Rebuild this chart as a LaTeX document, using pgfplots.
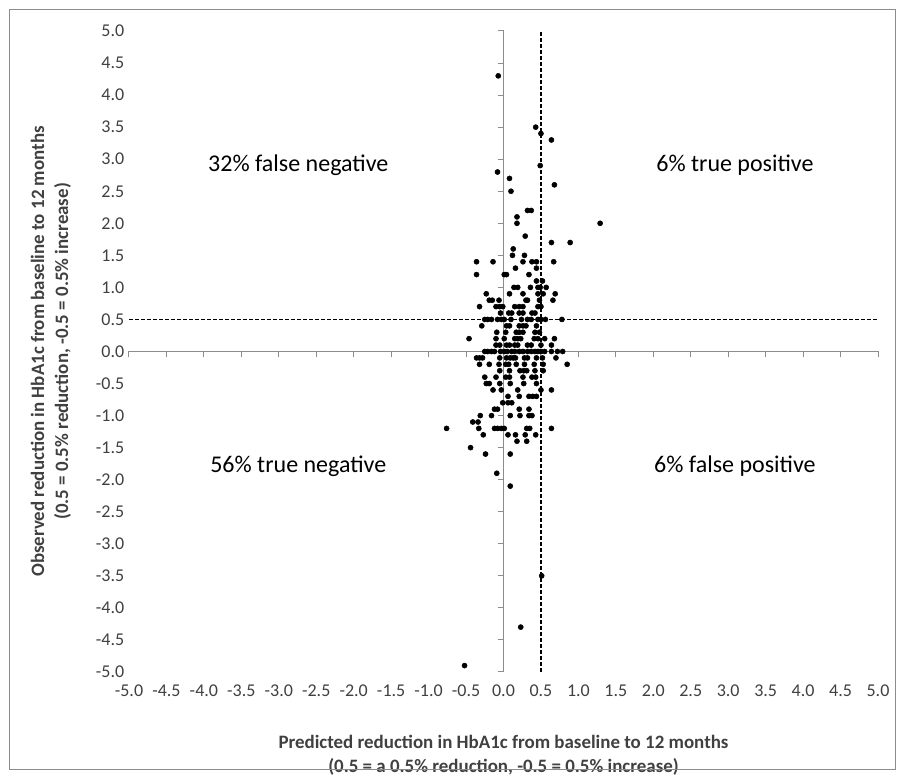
\documentclass[border=0pt]{standalone}
\usepackage{fontspec}
\setmainfont{Carlito}
\usepackage{pgfplots}
\pgfplotsset{compat=1.18}
\definecolor{axisgray}{HTML}{8C8C8C}
\definecolor{ticktext}{HTML}{404040}

\begin{document}
\begin{tikzpicture}
  % cross-shaped axis lines through the origin
  \begin{axis}[
    name=lines,
    scale only axis, width=561.75pt, height=480.75pt,
    xmin=-5, xmax=5, ymin=-5, ymax=5,
    axis lines=middle,
    axis line style={axisgray, line width=0.8pt, -},
    xtick={-5,-4.5,...,5}, ytick={-5,-4.5,...,5},
    xticklabels={}, yticklabels={},
    tick align=outside, major tick length=4.5pt,
    tick style={axisgray, line width=0.75pt},
  ]
  \end{axis}
  % tick labels, titles and data
  \begin{axis}[
    name=main,
    scale only axis, width=561.75pt, height=480.75pt,
    xmin=-5, xmax=5, ymin=-5, ymax=5,
    axis line style={draw=none},
    tick style={draw=none},
    xtick={-5,-4.5,...,5}, ytick={-5,-4.5,...,5},
    xtick pos=bottom, ytick pos=left,
    /pgf/number format/assume math mode=true,
    /pgf/number format/.cd, fixed, fixed zerofill, precision=1, /pgfplots/.cd,
    ticklabel style={font=\fontsize{13.5}{16}\selectfont, text=ticktext},
    xticklabel style={yshift=-6pt},
    every axis x label/.style={at={([yshift=-44pt]axis description cs:0.5,0)}, anchor=north},
    every axis y label/.style={at={([xshift=-40pt]axis description cs:0,0.5)}, rotate=90, anchor=south},
    label style={font=\bfseries\fontsize{14.2}{18}\selectfont, text=ticktext, align=center},
    xlabel={Predicted reduction in HbA1c from baseline to 12 months\\(0.5 = a 0.5\% reduction, -0.5 = 0.5\% increase)},
    ylabel={Observed reduction in HbA1c from baseline to 12 months\\(0.5 = 0.5\% reduction, -0.5 = 0.5\% increase)},
    clip=false,
  ]
    % thresholds
    \addplot[black, line width=1.1pt, dash pattern=on 3pt off 1.5pt] coordinates {(-5,0.5) (5,0.5)};
    \addplot[black, line width=1.1pt, dash pattern=on 3pt off 1.5pt] coordinates {(0.5,-5) (0.5,5)};

    \addplot[only marks, mark=*, mark size=1.9pt, black] table {
x y
-0.07 4.3
0.43 3.5
0.50 3.4
0.64 3.3
0.49 2.9
-0.08 2.8
0.08 2.7
0.68 2.6
0.10 2.5
0.32 2.2
0.37 2.2
0.18 2.1
0.18 2.0
1.29 2.0
0.29 1.8
0.64 1.7
0.89 1.7
0.13 1.6
0.12 1.5
0.28 1.5
-0.36 1.4
-0.14 1.4
0.26 1.4
0.38 1.4
0.44 1.4
0.67 1.4
0.16 1.3
0.44 1.3
-0.36 1.2
0.01 1.2
0.04 1.2
0.34 1.2
0.44 1.1
0.52 1.1
0.14 1.0
0.19 1.0
0.36 1.0
0.46 1.0
0.49 1.0
0.57 1.0
-0.23 0.9
0.08 0.9
0.26 0.9
0.46 0.9
0.53 0.9
0.69 0.9
-0.19 0.8
-0.15 0.8
-0.06 0.8
0.30 0.8
0.32 0.8
0.48 0.8
0.66 0.8
-0.32 0.7
-0.10 0.7
-0.05 0.7
-0.01 0.7
0.15 0.7
0.21 0.7
0.26 0.7
0.46 0.7
0.50 0.7
-0.04 0.6
0.07 0.6
0.11 0.6
0.21 0.6
0.26 0.6
0.38 0.6
0.42 0.6
-0.25 0.5
-0.21 0.5
-0.16 0.5
-0.08 0.5
-0.03 0.5
0.01 0.5
0.10 0.5
0.24 0.5
0.32 0.5
0.37 0.5
0.46 0.5
0.50 0.5
0.56 0.5
0.78 0.5
-0.29 0.4
0.04 0.4
0.08 0.4
0.21 0.4
0.26 0.4
0.30 0.4
0.44 0.4
-0.09 0.3
0.03 0.3
0.17 0.3
0.21 0.3
0.26 0.3
0.42 0.3
0.48 0.3
-0.46 0.2
-0.10 0.2
0.01 0.2
0.15 0.2
0.19 0.2
0.23 0.2
0.41 0.2
0.46 0.2
0.55 0.2
0.68 0.2
-0.10 0.1
-0.05 0.1
0.04 0.1
0.08 0.1
0.15 0.1
0.19 0.1
0.32 0.1
0.37 0.1
0.50 0.1
0.64 0.1
-0.25 0.0
-0.21 0.0
-0.16 0.0
-0.12 0.0
-0.04 0.0
0.01 0.0
0.05 0.0
0.11 0.0
0.15 0.0
0.21 0.0
0.26 0.0
0.32 0.0
0.37 0.0
0.42 0.0
0.46 0.0
0.50 0.0
0.55 0.0
0.64 0.0
0.72 0.0
0.79 0.0
-0.36 -0.1
-0.32 -0.1
-0.28 -0.1
-0.05 -0.1
0.04 -0.1
0.09 -0.1
0.13 -0.1
0.16 -0.1
0.28 -0.1
0.32 -0.1
0.44 -0.1
0.52 -0.1
0.70 -0.1
-0.32 -0.2
-0.19 -0.2
-0.06 -0.2
0.03 -0.2
0.07 -0.2
0.17 -0.2
0.28 -0.2
0.41 -0.2
0.53 -0.2
0.85 -0.2
-0.05 -0.3
0.08 -0.3
0.22 -0.3
0.27 -0.3
0.31 -0.3
0.42 -0.3
0.53 -0.3
-0.25 -0.4
-0.10 -0.4
0.03 -0.4
0.08 -0.4
0.26 -0.4
0.38 -0.4
0.43 -0.4
-0.23 -0.5
-0.19 -0.5
-0.05 -0.5
0.09 -0.5
0.27 -0.5
0.44 -0.5
-0.14 -0.6
-0.03 -0.6
0.19 -0.6
0.50 -0.6
0.64 -0.6
0.06 -0.7
0.21 -0.7
0.34 -0.7
0.39 -0.7
0.44 -0.7
-0.01 -0.8
0.06 -0.8
0.11 -0.8
-0.12 -0.9
-0.08 -0.9
0.21 -0.9
0.34 -0.9
-0.31 -1.0
-0.16 -1.0
0.09 -1.0
0.22 -1.0
0.34 -1.0
0.38 -1.0
-0.41 -1.1
-0.34 -1.1
-0.76 -1.2
-0.33 -1.2
-0.12 -1.2
-0.08 -1.2
-0.03 -1.2
0.01 -1.2
0.31 -1.2
0.35 -1.2
0.64 -1.2
-0.27 -1.3
0.06 -1.3
0.16 -1.3
0.29 -1.3
0.43 -1.3
0.18 -1.4
0.31 -1.4
-0.44 -1.5
-0.24 -1.6
0.09 -1.6
-0.09 -1.9
0.09 -2.1
0.51 -3.5
0.23 -4.3
-0.52 -4.9
    };

    \node[font=\fontsize{18}{22}\selectfont, text=black] at (axis cs:-2.74,2.91) {32\% false negative};
    \node[font=\fontsize{18}{22}\selectfont, text=black] at (axis cs:3.09,2.91) {6\% true positive};
    \node[font=\fontsize{18}{22}\selectfont, text=black] at (axis cs:-2.74,-1.79) {56\% true negative};
    \node[font=\fontsize{18}{22}\selectfont, text=black] at (axis cs:3.09,-1.79) {6\% false positive};
  \end{axis}
  % chart area border and page size
  \draw[axisgray, line width=0.75pt] ([xshift=-89.25pt,yshift=-73.5pt]main.south west) rectangle ([xshift=12.75pt,yshift=15.75pt]main.north east);
  \path[use as bounding box] ([xshift=-96.75pt,yshift=-79.5pt]main.south west) rectangle ([xshift=20.25pt,yshift=23.25pt]main.north east);
\end{tikzpicture}
\end{document}
